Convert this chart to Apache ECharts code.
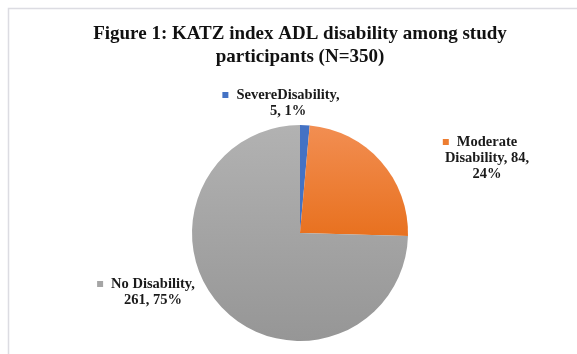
<!DOCTYPE html>
<html>
<head>
<meta charset="utf-8">
<script src="https://cdn.jsdelivr.net/npm/echarts@6/dist/echarts.min.js"></script>
<style>
html,body{margin:0;padding:0;background:#fff;}
#chart{width:577px;height:354px;}
</style>
</head>
<body>
<div id="chart"></div>
<script>
const titleText = "Figure 1: KATZ index ADL disability among study\nparticipants (N=350)";
const categories = ["SevereDisability", "Moderate Disability", "No Disability"];
const values = [5, 84, 261];
const percents = ["1%", "24%", "75%"];
const labelLines = [
  ["SevereDisability,", "5, 1%"],
  ["Moderate", "Disability, 84,", "24%"],
  ["No Disability,", "261, 75%"]
];
const markerColors = ["#4472C4", "#ED7D31", "#A5A5A5"];

// label placement (text-block centre x, top y) — layout, not data
const labelPlacement = [[288, 87], [487, 134], [153, 276]];

const fills = [
  "#4472C4",
  new echarts.graphic.LinearGradient(0, 0, 0, 1, [{offset:0,color:"#F28E52"},{offset:1,color:"#E8711F"}]),
  new echarts.graphic.LinearGradient(0, 0, 0, 1, [{offset:0,color:"#B2B2B2"},{offset:1,color:"#969696"}])
];

const chart = echarts.init(document.getElementById('chart'), null, {renderer: 'canvas'});

const data = categories.map((c, i) => {
  const lines = labelLines[i];
  const first = "{m" + i + "|}{g|}{t|" + lines[0] + "}{p|}";
  const rest = lines.slice(1).map(l => "{t|" + l + "}");
  return {
    name: c,
    value: values[i],
    itemStyle: {color: fills[i]},
    label: {formatter: [first].concat(rest).join("\n")}
  };
});

const rich = {
  t: {fontFamily: "Liberation Serif", fontWeight: "bold", fontSize: 14.5, color: "#1a1a1a", lineHeight: 16},
  g: {width: 8, height: 6},
  p: {width: 14, height: 6}
};
markerColors.forEach((c, i) => {
  rich["m" + i] = {width: 6, height: 6, backgroundColor: c};
});

chart.setOption({
  animation: false,
  backgroundColor: "#ffffff",
  title: {
    text: titleText,
    left: 300,
    top: 23,
    padding: 0,
    textAlign: "center",
    textStyle: {fontFamily: "Liberation Serif", fontWeight: "bold", fontSize: 19, color: "#111", lineHeight: 23}
  },
  graphic: [{
    type: "rect",
    shape: {x: 8.5, y: 8.5, width: 600, height: 400},
    style: {fill: "none", stroke: "#dcdce2", lineWidth: 1.5},
    silent: true
  }],
  series: [{
    type: "pie",
    center: [300, 233],
    radius: 108,
    startAngle: 90,
    clockwise: true,
    data: data,
    itemStyle: {borderWidth: 0},
    label: {
      show: true,
      position: "outside",
      rich: rich
    },
    labelLine: {show: false},
    labelLayout: function (p) {
      const pos = labelPlacement[p.dataIndex];
      return {x: pos[0], y: pos[1], align: "center", verticalAlign: "top", hideOverlap: false};
    }
  }]
});
</script>
</body>
</html>
